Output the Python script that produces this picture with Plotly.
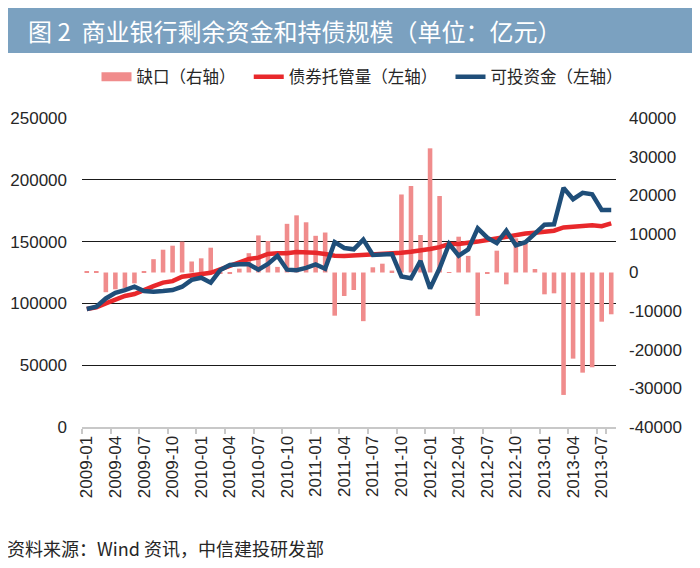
import plotly.graph_objects as go

# ---- data (亿元) ----
months = [f"{y}-{m:02d}" for y in range(2009, 2014) for m in range(1, 13)][:56]

gap = [200, 200, -5100, -4350, -4000, -2800, 200, 3450, 5900, 6940,
       8000, 2850, 3670, 6420, -200, -400, 1000, 5000, 9600, 8150,
       1450, 12600, 14800, 13000, 9500, 10350, -11180, -6080, -4530, -12600,
       1350, 2280, 500, 20200, 22390, 9700, 32150, 19800, 100, 9270,
       4300, -11220, -200, 5650, -3060, 8850, 7550, 900, -5650, -5390,
       -31700, -22300, -25930, -24540, -12730, -10820]

bond = [95500, 96800, 100000, 103000, 106000, 107600, 111000, 114000, 116800, 118000,
        121600, 122400, 124000, 124800, 127500, 130500, 133000, 136000, 137000, 140000,
        140500, 140500, 141500, 141500, 141000, 140000, 138500, 138300, 138600, 139000,
        139200, 139800, 140500, 141000, 141800, 142500, 144000, 145500, 148000, 148000,
        148600, 150000, 151300, 152700, 154500, 155500, 156500, 157200, 158000, 158800,
        161500, 162000, 163000, 163200, 162500, 164800]

funds = [95500, 97300, 104000, 108500, 110800, 113500, 110000, 109500, 110000, 110800,
         113500, 119000, 120800, 116800, 127000, 131000, 131600, 131600, 127300, 131900,
         138500, 127300, 126800, 128700, 131600, 128000, 149600, 144800, 143800, 151600,
         139200, 139200, 140000, 121800, 120300, 134400, 112000, 128400, 148200, 138600,
         143600, 160760, 153200, 148800, 158800, 147000, 149500, 156400, 163700, 164000,
         193500, 184300, 189500, 188200, 175600, 175600]

left_ticks = [0, 50000, 100000, 150000, 200000, 250000]
right_ticks = [-40000, -30000, -20000, -10000, 0, 10000, 20000, 30000, 40000]
right_labels = [str(v) for v in right_ticks]
x_labels = months[::3]

names = ["缺口（右轴）", "债券托管量（左轴）", "可投资金（左轴）"]
title_text = "图 2  商业银行剩余资金和持债规模（单位：亿元）"
source_text = "资料来源：Wind 资讯，中信建投研发部"

# ---- layout geometry (reference px; page body adds an 8px offset) ----
OFF = 8
W, H = 700 - OFF, 568 - OFF
L, T = 82 - OFF, 118 - OFF
R = W - (616 - OFF)
B = H - (427 - OFF)
pw, ph = W - L - R, H - T - B


def px_x(x):
    return (x - OFF - L) / pw


def px_y(y):
    return (H - B - (y - OFF)) / ph


text_color = "#262626"
num_font = "Liberation Sans, Arial, Noto Sans CJK SC"
cjk_font = "Noto Sans CJK SC, Liberation Sans"
bar_color = "#F08C8C"
pad = "\u3000"

fig = go.Figure()
fig.add_trace(go.Bar(x=months, y=gap, name=names[0], marker_color=bar_color,
                     marker_line_width=0, yaxis="y", showlegend=False))
# legend swatch for the bars (wide rectangle like the original)
fig.add_trace(go.Scatter(x=[None], y=[None], name=names[0] + pad, mode="lines",
                         line=dict(color=bar_color, width=9), yaxis="y"))
fig.add_trace(go.Scatter(x=months, y=bond, name=names[1] + pad, mode="lines",
                         line=dict(color="#E8282B", width=4.5), yaxis="y2"))
fig.add_trace(go.Scatter(x=months, y=funds, name=names[2], mode="lines",
                         line=dict(color="#1F4E79", width=4.5), yaxis="y2"))

fig.update_layout(
    width=W, height=H,
    margin=dict(l=L, r=R, t=T, b=B, autoexpand=False),
    paper_bgcolor="white", plot_bgcolor="white",
    font=dict(family=num_font, size=17, color=text_color),
    bargap=0.52,
    showlegend=True,
    legend=dict(orientation="h", x=px_x(362), xanchor="center",
                y=px_y(77), yanchor="middle",
                font=dict(family=cjk_font, size=16.5, color=text_color),
                traceorder="normal", itemwidth=30),
    xaxis=dict(type="category", range=[-0.5, len(months) - 0.5],
               tickmode="array", tickvals=x_labels, ticktext=x_labels,
               tickangle=-90, ticks="outside", ticklen=5, tickwidth=1.5,
               tickcolor="#c8c8c8", tickson="boundaries",
               showline=True, linecolor="#c8c8c8", linewidth=2,
               showgrid=False, zeroline=False, automargin=False,
               tickfont=dict(size=17, color=text_color)),
    yaxis=dict(side="right", range=[-40000, 40000],
               tickmode="array", tickvals=right_ticks, ticktext=right_labels,
               showgrid=False, zeroline=False, showline=False,
               ticklabelstandoff=12, automargin=False,
               tickfont=dict(size=17, color=text_color)),
    yaxis2=dict(side="left", overlaying="y", range=[0, 250000],
                tickmode="array", tickvals=left_ticks, tickformat="d",
                showgrid=True, gridcolor="#1a1a1a", gridwidth=1.2,
                zeroline=False, showline=False,
                ticklabelstandoff=14, automargin=False,
                tickfont=dict(size=17, color=text_color)),
    shapes=[dict(type="rect", xref="paper", yref="paper",
                 x0=px_x(5), x1=px_x(695), y0=px_y(53), y1=px_y(5),
                 fillcolor="#7BA1C0", line=dict(width=0), layer="below")],
    annotations=[
        dict(text=title_text, xref="paper", yref="paper",
             x=px_x(26), y=px_y(30), xanchor="left", yanchor="middle",
             showarrow=False, font=dict(family=cjk_font, size=24, color="white")),
        dict(text=source_text, xref="paper", yref="paper",
             x=px_x(5), y=px_y(548), xanchor="left", yanchor="middle",
             showarrow=False, font=dict(family=cjk_font, size=18, color=text_color)),
    ],
)

fig.write_html("out.html")
